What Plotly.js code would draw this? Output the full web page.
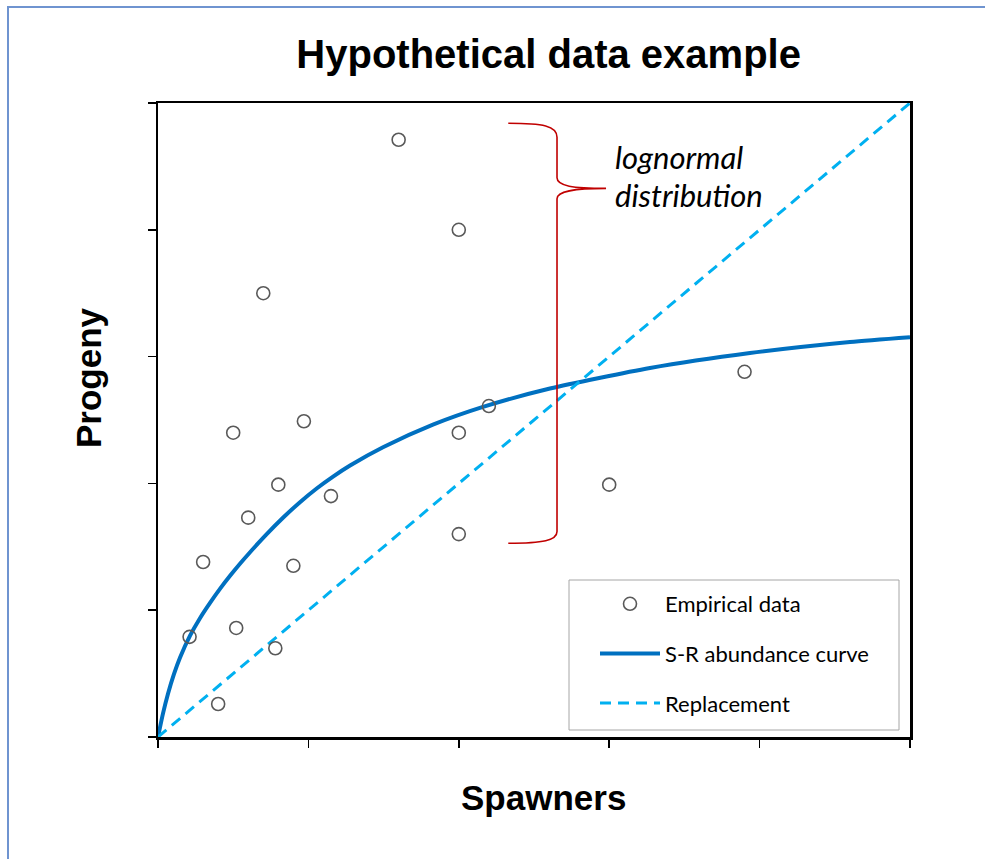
<!DOCTYPE html>
<html>
<head>
<meta charset="utf-8">
<script src="https://cdn.plot.ly/plotly-3.0.1.min.js"></script>
<style>
  html, body { margin: 0; padding: 0; background: #fff; }
  #wrap { position: relative; width: 985px; height: 859px; overflow: hidden; }
  #chart { position: absolute; left: 0; top: 0; width: 985px; height: 859px; }
  #frame { position: absolute; left: 7px; top: 6px; width: 990px; height: 870px;
           border-left: 2px solid #6F94D0; border-top: 2px solid #6F94D0; pointer-events: none; }
</style>
</head>
<body>
<div id="wrap">
  <div id="chart"></div>
  <div id="frame"></div>
</div>
<script>
// Observed spawner / progeny pairs
const spawners = [0.21, 0.30, 0.40, 0.50, 0.52, 0.60, 0.70, 0.78, 0.80, 0.90, 0.97, 1.15,
                  1.60, 2.00, 2.00, 2.00, 2.20, 3.00, 3.90];
const progeny  = [0.79, 1.38, 0.26, 2.40, 0.86, 1.73, 3.50, 0.70, 1.99, 1.35, 2.49, 1.90,
                  4.71, 4.00, 2.40, 1.60, 2.61, 1.99, 2.88];

// Fitted stock-recruitment curve
const curveS = [0, 0.033, 0.066, 0.106, 0.146, 0.213, 0.279, 0.346, 0.412, 0.479, 0.545,
                0.612, 0.718, 0.831, 0.944, 1.057, 1.164, 1.277, 1.496, 1.828, 2.161,
                2.606, 3.271, 3.936, 4.601, 5.0];
const curveR = [0, 0.184, 0.339, 0.495, 0.625, 0.799, 0.937, 1.058, 1.168, 1.271, 1.366,
                1.457, 1.594, 1.729, 1.852, 1.962, 2.054, 2.141, 2.285, 2.463, 2.603,
                2.748, 2.910, 3.028, 3.115, 3.153];

// One-to-one replacement line
const replS = [0, 5];
const replR = [0, 5];

const axisTicks = [0, 1, 2, 3, 4, 5];

const traces = [
  {
    x: curveS, y: curveR, type: 'scatter', mode: 'lines',
    name: 'S-R abundance curve', legendgroup: 'b', legendrank: 2,
    line: { color: '#0070C0', width: 4, shape: 'spline', smoothing: 0.6 }
  },
  {
    x: replS, y: replR, type: 'scatter', mode: 'lines',
    name: 'Replacement', legendgroup: 'c', legendrank: 3,
    line: { color: '#00B0F0', width: 3, dash: '11px,7px' }
  },
  {
    x: spawners, y: progeny, type: 'scatter', mode: 'markers',
    name: 'Empirical data', legendgroup: 'a', legendrank: 1,
    marker: { symbol: 'circle-open', size: 13, color: '#595959', line: { width: 1.6, color: '#595959' } }
  }
];

// Brace marking the spread of progeny around the curve
const bracePath = 'M2.329,4.840 C2.56,4.840 2.653,4.820 2.653,4.730 L2.653,4.410 ' +
                  'C2.653,4.345 2.76,4.327 2.979,4.327 C2.76,4.327 2.653,4.305 2.653,4.245 ' +
                  'L2.653,1.620 C2.653,1.550 2.56,1.528 2.329,1.528';

// Legend frame in plot-area fractions
const px = v => (v - 158) / 752;
const py = v => (737 - v) / 634;

const layout = {
  width: 985, height: 859,
  paper_bgcolor: '#fff', plot_bgcolor: '#fff',
  margin: { l: 158, r: 75, t: 103, b: 122 },
  showlegend: true,
  title: {
    text: '<b>Hypothetical data example</b>',
    font: { family: 'Liberation Sans, Arial, sans-serif', size: 40, color: '#000' },
    xref: 'container', yref: 'container', x: 0.557, y: 1 - 54 / 859,
    xanchor: 'center', yanchor: 'middle'
  },
  xaxis: {
    range: [0, 5], tickvals: axisTicks, showticklabels: false,
    ticks: 'outside', ticklen: 8, tickwidth: 1.5, tickcolor: '#000',
    showline: true, linecolor: '#000', linewidth: 2.5, mirror: true,
    showgrid: false, zeroline: false, fixedrange: true
  },
  yaxis: {
    range: [0, 5], tickvals: axisTicks, showticklabels: false,
    ticks: 'outside', ticklen: 8, tickwidth: 1.5, tickcolor: '#000',
    showline: true, linecolor: '#000', linewidth: 2.5, mirror: true,
    showgrid: false, zeroline: false, fixedrange: true
  },
  legend: {
    x: px(569), y: py(583), xanchor: 'left', yanchor: 'top',
    bgcolor: 'rgba(0,0,0,0)', borderwidth: 0,
    font: { family: 'Lato, Carlito, sans-serif', size: 22, color: '#000' },
    traceorder: 'grouped', tracegroupgap: 18, itemwidth: 60, indentation: 26
  },
  shapes: [
    { type: 'path', xref: 'x', yref: 'y', path: bracePath,
      line: { color: '#C00000', width: 1.6 }, fillcolor: 'rgba(0,0,0,0)' },
    { type: 'rect', xref: 'paper', yref: 'paper', layer: 'above',
      x0: px(569), x1: px(899), y0: py(730), y1: py(580),
      line: { color: '#A6A6A6', width: 1 }, fillcolor: '#fff' }
  ],
  annotations: [
    { text: '<b>Spawners</b>', xref: 'paper', yref: 'paper',
      x: px(543), y: py(797), xanchor: 'center', yanchor: 'middle',
      showarrow: false, font: { family: 'Liberation Sans, Arial, sans-serif', size: 35, color: '#000' } },
    { text: '<b>Progeny</b>', xref: 'paper', yref: 'paper', textangle: -90,
      x: px(88), y: py(378), xanchor: 'center', yanchor: 'middle',
      showarrow: false, font: { family: 'Liberation Sans, Arial, sans-serif', size: 35, color: '#000' } },
    { text: '<i>lognormal</i>', xref: 'paper', yref: 'paper',
      x: px(613), y: py(157), xanchor: 'left', yanchor: 'middle',
      showarrow: false, font: { family: 'Lato, Carlito, sans-serif', size: 31, color: '#000' } },
    { text: '<i>distribution</i>', xref: 'paper', yref: 'paper',
      x: px(613), y: py(195), xanchor: 'left', yanchor: 'middle',
      showarrow: false, font: { family: 'Lato, Carlito, sans-serif', size: 31, color: '#000' } }
  ]
};

Plotly.newPlot('chart', traces, layout, { staticPlot: true, displayModeBar: false });
</script>
</body>
</html>
